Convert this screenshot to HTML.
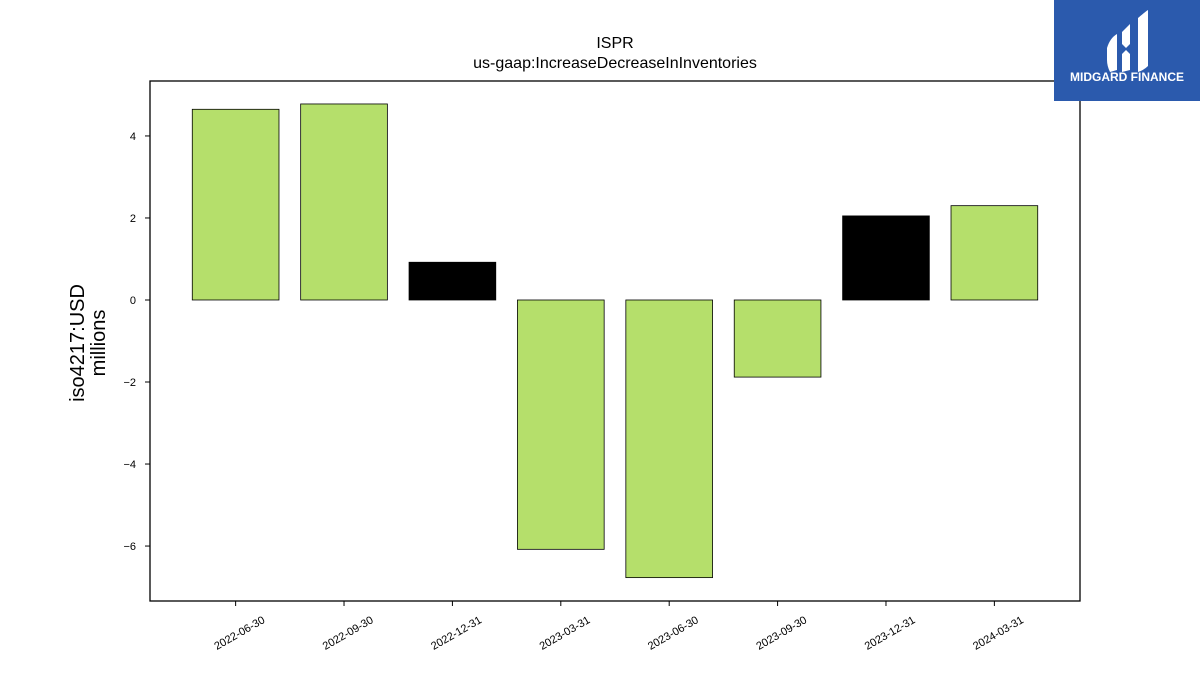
<!DOCTYPE html>
<html><head><meta charset="utf-8"><style>
body{margin:0;background:#fff;width:1200px;height:675px;overflow:hidden;font-family:"Liberation Sans","DejaVu Sans",sans-serif;}
</style></head><body>
<svg id="chart" width="1200" height="675" xmlns="http://www.w3.org/2000/svg">
<rect x="0" y="0" width="1200" height="675" fill="#fff"/>
<text x="615" y="48" text-anchor="middle" font-size="16">ISPR</text>
<text x="615" y="68" text-anchor="middle" font-size="16">us-gaap:IncreaseDecreaseInInventories</text>
<text transform="translate(84,343) rotate(-90)" text-anchor="middle" font-size="20">iso4217:USD</text>
<text transform="translate(105,343) rotate(-90)" text-anchor="middle" font-size="20">millions</text>
<g id="bars"></g>
<g id="yticks"></g>
<g id="xticks"></g>
<rect x="150" y="81" width="930" height="520" fill="none" stroke="#000" stroke-width="1.3"/>
<g>
<rect x="1054" y="0" width="146" height="101" fill="#2b5aad"/>
<path d="M1107 48 Q1110 38 1117 34 L1117 70 L1110 72 Q1107 66 1107 60 Z" fill="#fff"/>
<path d="M1122 32 L1130 24 L1130 44 L1126 48 L1122 44 Z M1122 54 L1126 50 L1130 54 L1130 70 L1122 72 Z" fill="#fff"/>
<path d="M1138 18 Q1145 12 1148 10 L1148 66 Q1144 70 1138 72 Z" fill="#fff"/>
<text x="1127" y="81" text-anchor="middle" font-size="12" font-weight="bold" fill="#fff">MIDGARD FINANCE</text>
</g>
</svg>
<script>
const categories = ["2022-06-30","2022-09-30","2022-12-31","2023-03-31","2023-06-30","2023-09-30","2023-12-31","2024-03-31"];
const values = [4.65, 4.78, 0.92, -6.08, -6.77, -1.88, 2.05, 2.30];
const barColors = ["#b5df6b","#b5df6b","#000000","#b5df6b","#b5df6b","#b5df6b","#000000","#b5df6b"];
const yTickValues = [-6, -4, -2, 0, 2, 4];
const yTickLabels = ["\u22126","\u22124","\u22122","0","2","4"];
const NS="http://www.w3.org/2000/svg";
const px0=150, px1=1080, py0=81, py1=601;
const xMin=-0.79, xMax=categories.length-1+0.79, yMin=-7.34, yMax=5.34;
function xs(i){return px0+(i-xMin)/(xMax-xMin)*(px1-px0);}
function ys(v){return py1-(v-yMin)/(yMax-yMin)*(py1-py0);}
const bw=(px1-px0)/(xMax-xMin)*0.8;
const bars=document.getElementById('bars');
values.forEach((v,i)=>{
  const r=document.createElementNS(NS,'rect');
  const y0=ys(Math.max(v,0)), y1=ys(Math.min(v,0));
  r.setAttribute('x',xs(i)-bw/2);r.setAttribute('y',y0);
  r.setAttribute('width',bw);r.setAttribute('height',y1-y0);
  r.setAttribute('fill',barColors[i]);r.setAttribute('stroke','#000');r.setAttribute('stroke-width','0.8');
  
  
  bars.appendChild(r);
});
const yt=document.getElementById('yticks');
yTickValues.forEach((v,i)=>{
  const y=ys(v);
  const l=document.createElementNS(NS,'line');
  l.setAttribute('x1',145);l.setAttribute('x2',150);l.setAttribute('y1',y);l.setAttribute('y2',y);l.setAttribute('stroke','#000');
  
  
  yt.appendChild(l);
  const t=document.createElementNS(NS,'text');
  t.setAttribute('x',136);t.setAttribute('y',y+4);t.setAttribute('text-anchor','end');t.setAttribute('font-size','11');
  t.textContent=yTickLabels[i];
  
  
  yt.appendChild(t);
});
const xt=document.getElementById('xticks');
categories.forEach((c,i)=>{
  const x=xs(i);
  const l=document.createElementNS(NS,'line');
  l.setAttribute('x1',x);l.setAttribute('x2',x);l.setAttribute('y1',601);l.setAttribute('y2',606);l.setAttribute('stroke','#000');
  
  
  xt.appendChild(l);
  const t=document.createElementNS(NS,'text');
  t.setAttribute('transform','translate('+(x+30)+',622) rotate(-30)');
  t.setAttribute('text-anchor','end');t.setAttribute('font-size','11');
  t.textContent=c;
  
  
  xt.appendChild(t);
});
</script>
</body></html>
